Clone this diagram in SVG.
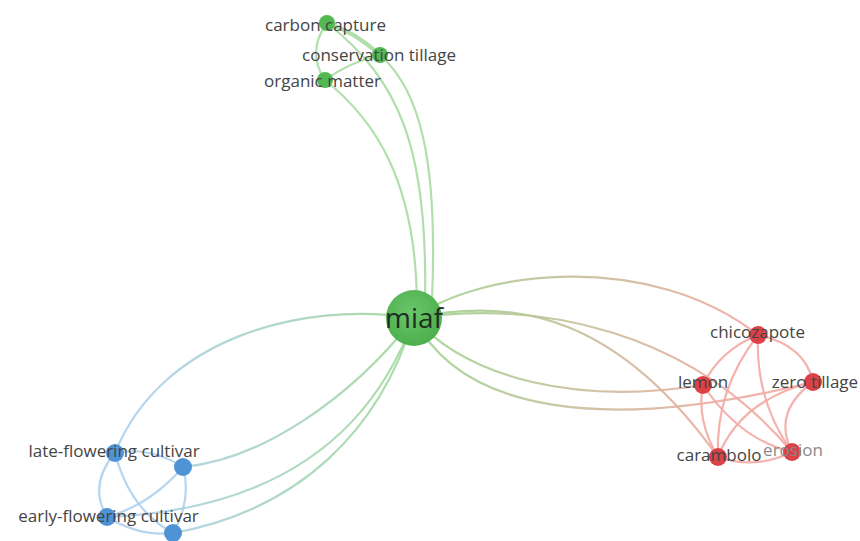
<svg xmlns="http://www.w3.org/2000/svg" width="860" height="541" viewBox="0 0 860 541">
<defs>
<linearGradient id="gRed" gradientUnits="userSpaceOnUse" x1="430" y1="0" x2="760" y2="0">
<stop offset="0" stop-color="#a3d394"/><stop offset="1" stop-color="#f3a7a1"/>
</linearGradient>
<linearGradient id="gBlue" gradientUnits="userSpaceOnUse" x1="400" y1="0" x2="130" y2="0">
<stop offset="0" stop-color="#a3d89e"/><stop offset="1" stop-color="#add0ec"/>
</linearGradient>
<radialGradient id="miafFill" cx="0.45" cy="0.4" r="0.6">
<stop offset="0" stop-color="#6cc66c"/><stop offset="1" stop-color="#4caf4c"/>
</radialGradient>
</defs>
<style>
.e{fill:none;stroke-width:2.2;stroke-linecap:round;stroke-opacity:0.9}
.eg{stroke:#a9dba3}
.er{stroke:#f4aaa4}
.eb{stroke:#addcf0;stroke:#aed0ec}
.egr{stroke:url(#gRed)}
.egb{stroke:url(#gBlue)}
.ng{fill:#52b852}
.nr{fill:#dc4148}
.nb{fill:#4d93d6}
.t{font-family:"Open Sans","Liberation Sans",sans-serif;font-size:17px;fill:#444444;text-anchor:middle}
</style>
<g id="connectors">
<path class="e eg" d="M325,80 C375,120 415,180 417,300"/>
<path class="e eg" d="M327,23 C400,80 428,150 425,300"/>
<path class="e eg" d="M380,55 C420,90 438,160 432,300"/>
<path class="e eg" d="M327,23 Q306,52 325,80"/>
<path class="e eg" d="M327,23 Q355,32 380,55" style="stroke-width:4"/>
<path class="e eg" d="M380,55 Q350,62 325,80"/>
<path class="e egr" d="M414,318 C480,270 650,250 758,335"/>
<path class="e egr" d="M414,318 C540,300 690,330 792,452"/>
<path class="e egr" d="M414,318 C520,295 620,320 718,457"/>
<path class="e egr" d="M414,318 C470,380 580,405 703,385"/>
<path class="e egr" d="M414,318 C460,410 600,435 813,382"/>
<path class="e er" d="M758,335 Q720,350 703,385"/>
<path class="e er" d="M758,335 Q805,345 813,382"/>
<path class="e er" d="M758,335 Q715,390 718,457"/>
<path class="e er" d="M758,335 Q755,400 792,452"/>
<path class="e er" d="M703,385 Q696,420 718,457"/>
<path class="e er" d="M703,385 Q740,440 792,452"/>
<path class="e er" d="M813,382 Q772,412 792,452"/>
<path class="e er" d="M813,382 Q740,400 718,457"/>
<path class="e er" d="M718,457 Q755,470 792,452"/>
<path class="e egb" d="M414,318 C300,300 160,340 115,453"/>
<path class="e egb" d="M414,318 C350,400 260,460 183,467"/>
<path class="e egb" d="M414,318 C370,440 270,510 107,517"/>
<path class="e egb" d="M414,318 C380,430 300,510 173,533"/>
<path class="e eb" d="M115,453 Q88,485 107,517"/>
<path class="e eb" d="M115,453 Q150,446 183,467"/>
<path class="e eb" d="M115,453 Q130,510 173,533"/>
<path class="e eb" d="M183,467 Q150,505 107,517"/>
<path class="e eb" d="M183,467 Q192,500 173,533"/>
<path class="e eb" d="M107,517 Q140,537 173,533"/>
</g>
<g id="miaf"><circle cx="414" cy="318" r="28" fill="url(#miafFill)"/><text x="414" y="328" class="t" style="font-size:28px;fill:#1e2e1e">miaf</text></g>
<g id="carbon-capture"><circle class="ng" cx="327" cy="23" r="8"/><text class="t" x="325.5" y="31">carbon capture</text></g>
<g id="conservation-tillage"><circle class="ng" cx="380" cy="55" r="8"/><text class="t" x="379" y="61">conservation tillage</text></g>
<g id="organic-matter"><circle class="ng" cx="325" cy="80" r="8"/><text class="t" x="322.5" y="87">organic matter</text></g>
<g id="chicozapote"><circle class="nr" cx="758" cy="335" r="9"/><text class="t" x="757.5" y="338">chicozapote</text></g>
<g id="lemon"><circle class="nr" cx="703" cy="385" r="9"/><text class="t" x="703" y="388">lemon</text></g>
<g id="zero-tillage"><circle class="nr" cx="813" cy="382" r="9"/><text class="t" x="815" y="388">zero tillage</text></g>
<g id="erosion"><circle class="nr" cx="792" cy="452" r="9"/><text class="t" x="793" y="456" style="fill:#8a8a8a">erosion</text></g>
<g id="carambolo"><circle class="nr" cx="718" cy="457" r="9"/><text class="t" x="719" y="461">carambolo</text></g>
<g id="late-flowering-cultivar"><circle class="nb" cx="115" cy="453" r="9"/><text class="t" x="114" y="457">late-flowering cultivar</text></g>
<g id="blue-node-2"><circle class="nb" cx="183" cy="467" r="9"/></g>
<g id="early-flowering-cultivar"><circle class="nb" cx="107" cy="517" r="9"/><text class="t" x="108.5" y="522">early-flowering cultivar</text></g>
<g id="blue-node-4"><circle class="nb" cx="173" cy="533" r="9"/></g>
</svg>
